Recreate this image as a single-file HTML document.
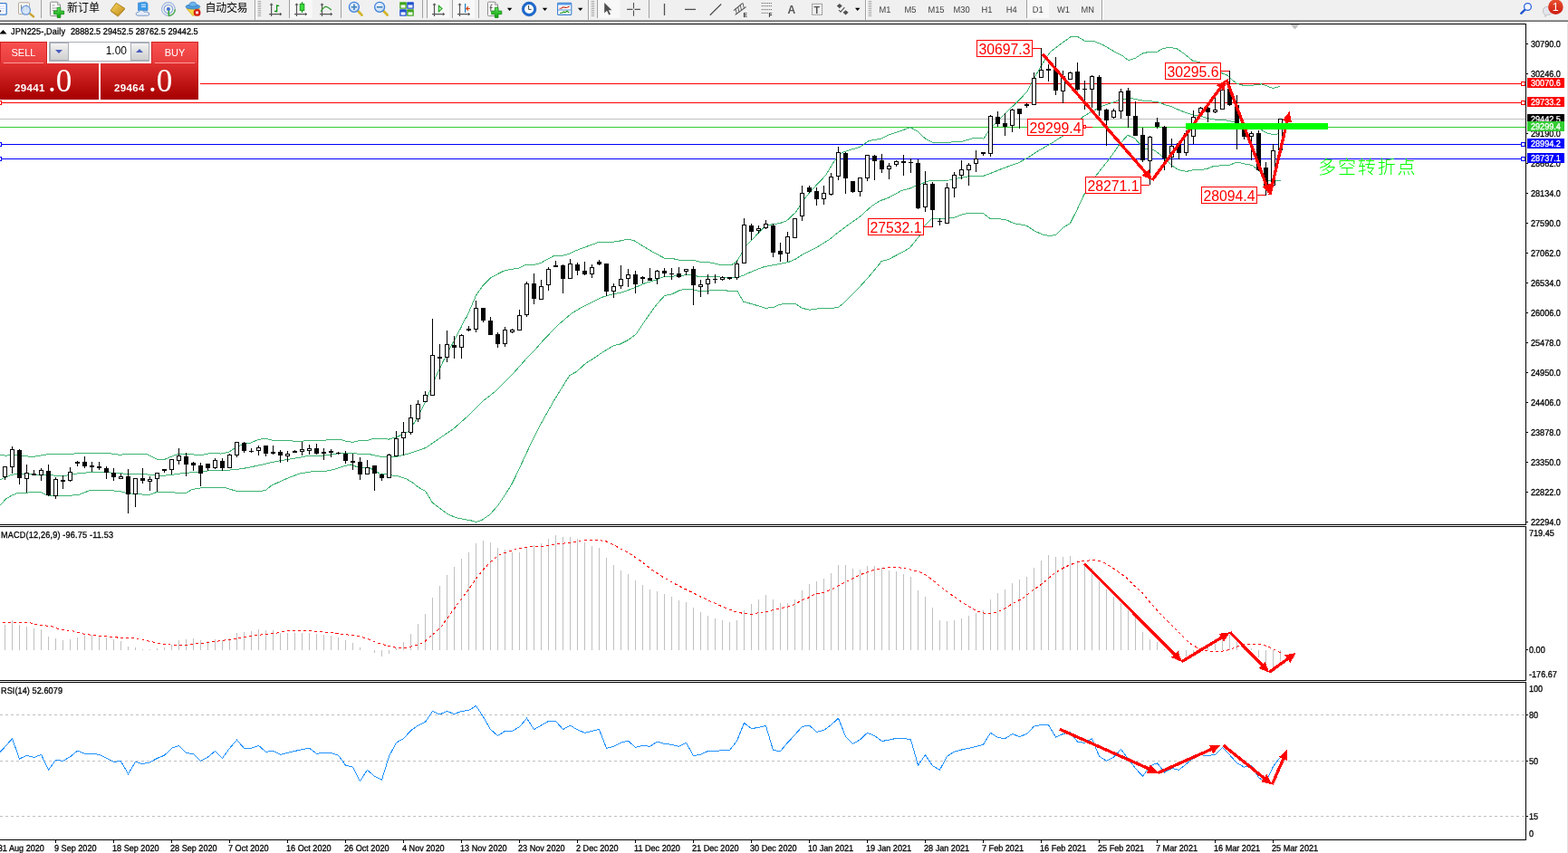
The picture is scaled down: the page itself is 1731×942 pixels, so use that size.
<!DOCTYPE html>
<html lang="zh"><head><meta charset="utf-8"><title>JPN225-,Daily</title>
<style>
html,body{margin:0;padding:0;background:#fff;}
body{width:1731px;height:942px;overflow:hidden;position:relative;font-family:"Liberation Sans","Noto Sans CJK SC",sans-serif;}
#chart{position:absolute;left:0;top:0;width:1731px;height:942px;}
#chart text{font-family:"Liberation Sans","Noto Sans CJK SC",sans-serif;}
.ax{font-size:10px;fill:#000;text-rendering:geometricPrecision;stroke:#000;stroke-width:0.3px;}
.axw{font-size:10px;fill:#fff;text-rendering:geometricPrecision;stroke:#fff;stroke-width:0.3px;}
.lbl{font-size:15.8px;fill:#f00;}
.t9{font-size:10px;fill:#000;text-rendering:geometricPrecision;stroke:#000;stroke-width:0.3px;}
#tb{position:absolute;left:0;top:0;width:1731px;height:26px;}

#tp{position:absolute;left:0;top:46px;width:220px;height:64px;font-family:"Liberation Sans",sans-serif;}
#tp div{position:absolute;box-sizing:border-box;}
.sb{background:linear-gradient(#f85050,#e83c3c);color:#fff;font-size:11px;text-align:center;line-height:23px;}
.pb{background:linear-gradient(#e03030,#b00808 80%,#a80000);color:#fff;}
.spin{background:#fff;border:1px solid #a9aeb8;}
.sbtn{background:linear-gradient(#f4f4f4,#e0e0e0 50%,#d0d0d0);border:1px solid #a9aeb8;}
.pr{font-weight:bold;font-size:11.5px;letter-spacing:0.35px;color:#fff;white-space:nowrap;}
.pbig{font-size:35px;color:#fff;font-family:"Liberation Serif",serif;white-space:nowrap;}

</style></head><body>
<svg id="chart" width="1731" height="942" viewBox="0 0 1731 942">
<rect x="1730" y="23" width="1" height="919" fill="#e2e2e2"/>
<g shape-rendering="crispEdges">
<rect x="221" y="92" width="1463" height="1" fill="#ff0000"/>
<rect x="0" y="113" width="1684" height="1" fill="#ff0000"/>
<rect x="0" y="131" width="1684" height="1" fill="#c0c0c0"/>
<rect x="0" y="140" width="1684" height="1" fill="#32cd32"/>
<rect x="0" y="159" width="1684" height="1" fill="#0000ff"/>
<rect x="0" y="175" width="1684" height="1" fill="#0000ff"/>
<rect x="1679.5" y="90.5" width="4" height="4" fill="#fff" stroke="#ff0000" stroke-width="1"/>
<rect x="1679.5" y="111.5" width="4" height="4" fill="#fff" stroke="#ff0000" stroke-width="1"/>
<rect x="1679.5" y="157.5" width="4" height="4" fill="#fff" stroke="#0000ff" stroke-width="1"/>
<rect x="1679.5" y="173.5" width="4" height="4" fill="#fff" stroke="#0000ff" stroke-width="1"/>
<rect x="-2.5" y="111.5" width="4" height="4" fill="#fff" stroke="#ff0000" stroke-width="1"/>
<rect x="-2.5" y="157.5" width="4" height="4" fill="#fff" stroke="#0000ff" stroke-width="1"/>
<rect x="-2.5" y="173.5" width="4" height="4" fill="#fff" stroke="#0000ff" stroke-width="1"/>
<polyline points="0,502 6.4,503.3 13.5,502 21.4,502.7 35.7,504.6 51,502 79,501.8 84.1,500.5 119.7,500.5 132.5,502.4 140.1,501.4 161.8,501.4 173.2,507.1 182.2,507.1 196.2,501.4 208.9,501.4 216.6,502.4 224.9,502 233.8,500.3 244,501.1 252.9,499 258,495.7 267,491 270.8,490.3 277.1,489 284.8,485.6 292.4,484.2 300.1,486.1 321.7,486.5 324.3,487.4 333.2,487.4 338.3,486.1 359.9,486.1 362.5,485.2 375.2,485.2 381.6,487.1 389.2,488.4 396.9,486.5 407.1,486.1 412.2,484.3 426.2,484.3 428.7,485.2 436,483.3 439.6,482 451.1,476.3 460.7,461.9 470.2,442.8 479.8,418.9 489.4,398.8 498.9,380.7 508.5,362.5 513.3,352.6 515.3,350 525.5,326.2 533.1,315.4 542,306.4 556.1,299.2 563.7,297.5 572.6,296.2 580.3,292.4 590.4,292.2 596.8,290.5 612.1,282.2 622.3,282 628.7,280.3 636.3,276.5 660.5,267.6 680.9,266.9 692.4,264.1 700,265.7 710.2,272 718.5,277 733.8,285.3 744,285.9 750.3,287.2 766.9,287.6 773.3,289.4 782.2,289.7 792,291.7 794.2,292.3 808.2,292.3 813.3,288.7 818.4,280.4 823.5,271.5 829.9,265.2 837.5,256.9 845.1,249.2 850.2,248.2 860.4,246.7 868.1,244.1 878.3,234.6 883.4,226.9 889.7,217.4 898.6,207.2 911.4,193.8 919.3,180.6 923.1,175.5 929.5,168.5 937.1,165.9 948.9,162.6 959.1,155.6 973.1,153.1 982,148.6 993.5,144.8 1005,140.7 1012.6,144.8 1021.5,153.1 1029.2,157.1 1048.3,157.1 1062.3,156.2 1075,152.4 1080.1,152.2 1085.9,153.1 1092.9,142.2 1103.1,132 1114.5,120.6 1123.4,112.3 1133.6,101.5 1141.3,87.1 1147.7,75.7 1155.3,62.9 1160.4,56.6 1173.2,47 1182.1,40.6 1189.7,40.6 1197.4,45.1 1206.3,45.1 1217.8,49.6 1230.5,57.2 1239.4,61.7 1245.8,66.8 1253.4,64.2 1261.1,59.1 1268.7,57.2 1277.6,57.2 1284,53.4 1291.6,52.4 1299.3,53.8 1306.9,59.1 1317.1,67.4 1323.5,68.3 1349,80.8 1355.3,83.3 1360.4,88.4 1365.5,92.2 1373.2,94.5 1383.4,94.1 1392.3,92.9 1398.6,94.8 1405,97.6 1413.3,95.4" fill="none" stroke="#3cb371" stroke-width="1" />
<polyline points="0,529.8 12.7,524.3 21.7,523.3 31.8,523.7 51,524.6 71.3,525.6 79,523.7 99.4,521.5 114.6,521.5 127.4,522.4 140.1,523.3 165.6,524.1 178.3,525.6 191.1,524.1 203.8,522.4 216.6,521.5 228.7,520 254.2,519 267,517.7 279.7,515.2 292.4,512.4 305.2,509.4 317.9,507.3 330.6,505.2 340.8,503.3 356.1,503.1 368.9,501.5 375.2,500.5 391.8,500.5 396.9,501.5 407.1,501.5 414.7,503.1 422.4,504.7 436,504.7 451.1,501.1 470.2,494.4 485.5,483.9 500.8,473.4 518,458.1 533.3,442.8 546.7,432.3 565.8,413.2 581.1,396 592,384.9 597.5,378.3 610.2,364.9 617.9,357.3 630.6,346.4 643.3,338.8 653.5,333.7 663.7,328.6 673.9,325.4 686.6,322.9 699.4,318.2 712.1,312.7 724.9,308.9 732.5,305.7 750.3,304.6 760.5,303.4 769.5,305 792,305 796.7,306.6 815.8,305.9 822.2,303.4 832.4,298.9 843.9,294.5 855.3,292.5 870.6,289.4 878.3,286.2 885.9,281.1 901.2,273.4 916.5,263.9 924.1,257.5 936.9,248 949.6,239 962.3,227.6 971.3,221.8 980.2,218.7 995.5,210.4 1004,208.2 1012.3,204.8 1026.3,199.4 1047.9,199 1056.9,197.1 1069.6,194.8 1084.9,194.6 1095.1,190.8 1107.8,185.7 1124,179.9 1134.9,174.1 1146.4,166.4 1160,158.8 1173.2,150.2 1185.9,138.1 1196.1,128.5 1206.3,122.8 1216.5,117.1 1230.5,112.6 1236.9,109.8 1243.2,109.2 1249.6,108.8 1262.3,111.3 1277.6,112.4 1287.8,116.2 1291.6,117.1 1303.1,122.2 1315.8,126.6 1326,128.5 1335,131.1 1341.3,132 1354.1,133 1363,134.9 1392.3,143.2 1398.6,147 1406.3,148.9 1413.3,147.4" fill="none" stroke="#3cb371" stroke-width="1" />
<polyline points="0,558.1 6.4,551.1 12.7,547.3 19.1,544.7 29.3,544.1 44.6,543.4 51,546.6 61.1,547.9 71.3,547.9 86.6,546.4 99.4,541.5 119.7,541.5 132.5,542.5 140.1,544.7 150.3,545.4 164.3,546.6 173.2,543.4 191.1,543.4 194.9,544.5 205.1,544.5 211.5,540.9 216.6,539.7 223.6,538.7 247.8,538.3 260.6,542.3 288.6,542.3 293.7,541.3 298.8,536.8 305.2,533.6 317.9,527.9 330.6,523.1 343.4,520.9 359.9,520.3 368.9,518.3 381.6,514.3 388,512.9 394.3,515.8 400.7,516.4 407.1,516.2 412.2,519 419.8,523.4 430,524.3 431.5,524.8 439.1,525.7 448,528.6 455.7,533.1 462,538.2 469.7,542.4 477.3,555.1 486.2,561.7 493.9,567.5 502.8,571.5 511.7,573.4 519.4,574.7 525.7,576.4 532.1,574.2 541,568.1 549.9,557.9 557.6,546.4 565.2,534.3 572.9,518.4 580.5,501.8 588.2,485.3 595.8,470.6 602,459.2 607.1,450.3 612.2,441.3 617.3,433.1 622.4,424.8 628.8,414.6 636.4,410.5 646.6,401.2 653,397.4 660.6,392.3 663.7,390 677.7,381.5 684.1,380.2 693,375.7 701.9,369.4 712.1,354.1 724.9,336.2 733.8,326.4 741.4,325 750.3,320.6 755.4,319.4 763.1,319.7 770.7,321.2 782.2,321.2 787.6,320.3 801.7,320.3 802.9,321.2 813.8,321.2 820.8,333.3 831,335.9 845,340.3 853.9,339.4 860.3,336.5 866.6,335.2 877.5,335.2 885.7,340.3 893.4,342.2 904.8,340.6 920.1,340.3 925.9,339 931.6,334.6 938,328.2 945.6,320.6 958.3,306.6 964.7,298.9 971.7,290.6 972.5,288.7 980.2,286.8 990.4,281.5 1004,274.1 1014.8,260.8 1021.2,248.7 1028.8,241.5 1042.9,241.5 1053,240.4 1063.2,236.6 1069.6,235.1 1084.9,235.1 1092.5,241.1 1100.2,241.5 1110.2,242.5 1119.1,246.6 1133.1,249.2 1142,254.9 1151,259.1 1158.6,260.6 1165.6,259.4 1173.9,251.1 1181.5,246.6 1189.2,231.3 1196.8,214.8 1209.6,194.4 1224.8,175.3 1235.8,159.5 1244.8,149.3 1252.4,152.5 1257.5,158.2 1263.9,164.6 1274.1,165.9 1280.4,170.3 1286.8,176.1 1293.2,182.4 1300.8,187.5 1309.7,189.4 1318.6,187.5 1331.4,186.9 1340.3,183.3 1356.9,182.4 1365.8,179 1373.4,180.9 1382.3,182.4 1388.7,187.5 1395.1,193.9 1400.2,199.6 1413.6,199.6" fill="none" stroke="#3cb371" stroke-width="1" />
<path d="M5 515v15M13 493v30M21 496v39M29 513v31M37 519v6M45 517v14M53 513v35M61 527v24M69 525v15M77 516v16M85 509v6M93 504v13M101 510v11M109 510v9M117 515v14M125 517v14M133 523v6M141 518v49M149 528v32M157 517v17M165 526v16M173 522v21M181 518v4M189 507v17M197 495v18M205 500v26M213 510v10M221 511v26M229 512v8M237 506v12M245 506v14M253 501v16M261 488v17M269 488v12M277 495v5M285 492v11M293 492v12M301 492v10M309 497v14M317 498v12M325 497v3M333 488v15M341 491v11M349 490v12M357 495v13M365 496v9M373 499v3M381 498v14M389 501v18M397 505v25M405 508v16M413 514v28M421 523v8M429 501v27M437 476v28M445 466v37M453 447v33M461 442v24M469 432v12M477 352v85M485 380v39M493 365v35M501 371v25M509 369v27M517 360v6M525 332v35M533 340v16M541 350v20M549 367v17M557 361v22M565 363v5M573 342v23M581 311v39M589 302v34M597 309v22M605 295v26M613 288v7M621 292v32M629 286v22M637 290v14M645 289v15M653 292v15M661 287v6M669 291v36M677 313v16M685 293v26M693 297v20M701 299v25M709 305v8M717 296v14M725 298v16M733 296v10M741 296v13M749 295v12M757 297v7M765 294v43M773 309v19M781 303v22M789 303v10M797 305v5M805 306v3M813 288v21M821 241v50M829 247v18M837 249v9M845 243v10M853 247v37M861 268v21M869 256v33M877 241v22M885 205v39M893 205v8M901 207v20M909 205v21M917 191v25M925 162v37M933 168v46M941 200v13M949 196v21M957 171v29M965 171v28M973 170v21M981 180v18M989 177v7M997 171v23M1005 175v16M1013 176v55M1021 189v45M1029 201v50M1037 241v8M1045 202v45M1053 190v28M1061 177v21M1069 180v25M1077 166v24M1085 168v4M1093 127v46M1101 123v17M1109 125v25M1117 120v26M1125 120v22M1133 114v5M1141 80v36M1149 53v33M1157 71v19M1165 63v42M1173 78v36M1181 79v9M1189 69v31M1197 89v32M1205 83v36M1213 83v45M1221 120v41M1229 120v11M1237 98v33M1245 97v44M1253 112v38M1261 141v38M1269 150v54M1277 130v12M1285 139v49M1293 153v32M1301 156v20M1309 144v28M1317 122v37M1325 118v7M1333 118v17M1341 108v17M1349 98v23M1357 78v39M1365 105v60M1373 142v12M1381 145v32M1389 144v45M1397 179v37M1405 159v46M1413 131v35" fill="none" stroke="#000" stroke-width="1" transform="translate(0.5 0)"/>
<path d="M3 515h5v12h-5zM11 496h5v20h-5zM19 497h5v31h-5zM27 522h5v7h-5zM35 523h5v2h-5zM43 519h5v6h-5zM51 520h5v27h-5zM59 529h5v19h-5zM67 530h5v2h-5zM75 521h5v10h-5zM83 510h5v2h-5zM91 510h5v5h-5zM99 514h5v2h-5zM107 515h5v2h-5zM115 517h5v5h-5zM123 522h5v5h-5zM131 526h5v3h-5zM139 526h5v20h-5zM147 528h5v18h-5zM155 528h5v3h-5zM163 529h5v3h-5zM171 522h5v7h-5zM179 518h5v2h-5zM187 507h5v12h-5zM195 503h5v6h-5zM203 504h5v9h-5zM211 511h5v3h-5zM219 514h5v9h-5zM227 512h5v5h-5zM235 508h5v9h-5zM243 509h5v8h-5zM251 502h5v15h-5zM259 488h5v15h-5zM267 489h5v9h-5zM275 498h5v1h-5zM283 494h5v4h-5zM291 492h5v9h-5zM299 499h5v2h-5zM307 499h5v4h-5zM315 501h5v3h-5zM323 498h5v2h-5zM331 496h5v3h-5zM339 495h5v3h-5zM347 495h5v6h-5zM355 499h5v2h-5zM363 498h5v2h-5zM371 500h5v1h-5zM379 501h5v8h-5zM387 509h5v2h-5zM395 510h5v14h-5zM403 516h5v8h-5zM411 514h5v9h-5zM419 524h5v4h-5zM427 502h5v26h-5zM435 484h5v20h-5zM443 477h5v7h-5zM451 461h5v17h-5zM459 446h5v17h-5zM467 436h5v8h-5zM475 392h5v45h-5zM483 394h5v2h-5zM491 380h5v15h-5zM499 381h5v3h-5zM507 370h5v14h-5zM515 363h5v2h-5zM523 340h5v24h-5zM531 340h5v14h-5zM539 354h5v16h-5zM547 369h5v11h-5zM555 364h5v16h-5zM563 364h5v3h-5zM571 348h5v17h-5zM579 313h5v35h-5zM587 313h5v17h-5zM595 316h5v15h-5zM603 297h5v18h-5zM611 293h5v2h-5zM619 293h5v15h-5zM627 291h5v17h-5zM635 292h5v7h-5zM643 299h5v4h-5zM651 295h5v8h-5zM659 289h5v3h-5zM667 291h5v31h-5zM675 316h5v6h-5zM683 308h5v8h-5zM691 303h5v5h-5zM699 303h5v11h-5zM707 306h5v2h-5zM715 307h5v3h-5zM723 299h5v9h-5zM731 299h5v3h-5zM739 302h5v1h-5zM747 302h5v4h-5zM755 297h5v3h-5zM763 297h5v18h-5zM771 314h5v3h-5zM779 308h5v6h-5zM787 308h5v1h-5zM795 306h5v3h-5zM803 306h5v2h-5zM811 291h5v16h-5zM819 248h5v43h-5zM827 249h5v7h-5zM835 252h5v3h-5zM843 247h5v5h-5zM851 249h5v30h-5zM859 277h5v4h-5zM867 261h5v19h-5zM875 241h5v22h-5zM883 213h5v26h-5zM891 207h5v5h-5zM899 211h5v9h-5zM907 213h5v7h-5zM915 195h5v20h-5zM923 168h5v27h-5zM931 169h5v28h-5zM939 200h5v12h-5zM947 196h5v16h-5zM955 171h5v26h-5zM963 172h5v6h-5zM971 177h5v10h-5zM979 183h5v4h-5zM987 178h5v4h-5zM995 178h5v2h-5zM1003 179h5v1h-5zM1011 180h5v50h-5zM1019 203h5v26h-5zM1027 203h5v29h-5zM1035 244h5v1h-5zM1043 207h5v40h-5zM1051 193h5v15h-5zM1059 187h5v7h-5zM1067 182h5v6h-5zM1075 175h5v6h-5zM1083 168h5v2h-5zM1091 128h5v42h-5zM1099 129h5v8h-5zM1107 136h5v4h-5zM1115 121h5v18h-5zM1123 120h5v6h-5zM1131 115h5v2h-5zM1139 86h5v30h-5zM1147 77h5v9h-5zM1155 76h5v2h-5zM1163 77h5v23h-5zM1171 84h5v17h-5zM1179 80h5v8h-5zM1187 79h5v20h-5zM1195 98h5v1h-5zM1203 84h5v15h-5zM1211 85h5v37h-5zM1219 121h5v12h-5zM1227 122h5v8h-5zM1235 101h5v22h-5zM1243 100h5v28h-5zM1251 128h5v22h-5zM1259 149h5v28h-5zM1267 151h5v27h-5zM1275 135h5v5h-5zM1283 140h5v35h-5zM1291 161h5v13h-5zM1299 158h5v11h-5zM1307 147h5v22h-5zM1315 129h5v22h-5zM1323 119h5v6h-5zM1331 119h5v5h-5zM1339 121h5v3h-5zM1347 99h5v22h-5zM1355 98h5v18h-5zM1363 116h5v20h-5zM1371 143h5v8h-5zM1379 147h5v4h-5zM1387 147h5v41h-5zM1395 185h5v22h-5zM1403 166h5v39h-5zM1411 131h5v35h-5z" fill="#000"/>
<path d="M4 516h3v10h-3zM12 497h3v18h-3zM28 523h3v5h-3zM44 520h3v4h-3zM60 530h3v17h-3zM76 522h3v8h-3zM132 527h3v1h-3zM148 529h3v16h-3zM164 530h3v1h-3zM172 523h3v5h-3zM188 508h3v10h-3zM196 504h3v4h-3zM236 509h3v7h-3zM252 503h3v13h-3zM260 489h3v13h-3zM284 495h3v2h-3zM316 502h3v1h-3zM332 497h3v1h-3zM340 496h3v1h-3zM404 517h3v6h-3zM428 503h3v24h-3zM436 485h3v18h-3zM444 478h3v5h-3zM452 462h3v15h-3zM460 447h3v15h-3zM468 437h3v6h-3zM476 393h3v43h-3zM492 381h3v13h-3zM508 371h3v12h-3zM524 341h3v22h-3zM556 365h3v14h-3zM564 365h3v1h-3zM572 349h3v15h-3zM580 314h3v33h-3zM596 317h3v13h-3zM604 298h3v16h-3zM628 292h3v15h-3zM652 296h3v6h-3zM676 317h3v4h-3zM684 309h3v6h-3zM692 304h3v3h-3zM724 300h3v7h-3zM756 298h3v1h-3zM772 315h3v1h-3zM780 309h3v4h-3zM796 307h3v1h-3zM812 292h3v14h-3zM820 249h3v41h-3zM836 253h3v1h-3zM844 248h3v3h-3zM868 262h3v17h-3zM876 242h3v20h-3zM884 214h3v24h-3zM908 214h3v5h-3zM916 196h3v18h-3zM924 169h3v25h-3zM948 197h3v14h-3zM956 172h3v24h-3zM980 184h3v2h-3zM988 179h3v2h-3zM1020 204h3v24h-3zM1044 208h3v38h-3zM1052 194h3v13h-3zM1060 188h3v5h-3zM1068 183h3v4h-3zM1076 176h3v4h-3zM1092 129h3v40h-3zM1116 122h3v16h-3zM1140 87h3v28h-3zM1148 78h3v7h-3zM1172 85h3v15h-3zM1180 81h3v6h-3zM1204 85h3v13h-3zM1228 123h3v6h-3zM1236 102h3v20h-3zM1268 152h3v25h-3zM1292 162h3v11h-3zM1308 148h3v20h-3zM1316 130h3v20h-3zM1324 120h3v4h-3zM1340 122h3v1h-3zM1348 100h3v20h-3zM1380 148h3v2h-3zM1404 167h3v37h-3zM1412 132h3v33h-3z" fill="#fff"/>
<path d="M5 690v28M13 685v33M21 690v28M29 692v26M37 694v24M45 695v23M53 703v15M61 705v13M69 707v11M77 706v12M85 704v14M93 702v16M101 701v17M109 702v16M117 704v14M125 706v12M133 708v10M141 714v4M149 715v3M157 717v1M165 717v1M173 716v2M181 715v3M189 712v6M197 707v11M205 706v12M213 705v13M221 707v11M229 708v10M237 706v12M245 707v11M253 705v13M261 699v19M269 698v20M277 697v21M285 695v23M293 696v22M301 696v22M309 699v19M317 699v19M325 699v19M333 699v19M341 699v19M349 700v18M357 701v17M365 702v16M373 704v14M381 707v11M389 710v8M397 715v3M413 718v3M421 718v7M429 718v4M437 716v2M445 709v9M453 700v18M461 689v29M469 678v40M477 660v58M485 647v71M493 635v83M501 626v92M509 617v101M517 610v108M525 600v118M533 597v121M541 599v119M549 605v113M557 607v111M565 610v108M573 610v108M581 604v114M589 602v116M597 600v118M605 595v123M613 591v127M621 593v125M629 593v125M637 595v123M645 599v119M653 603v115M661 605v113M669 616v102M677 624v94M685 630v88M693 634v84M701 641v77M709 646v72M717 651v67M725 653v65M733 656v62M741 659v59M749 663v55M757 665v53M765 671v47M773 676v42M781 680v38M789 683v35M797 685v33M805 687v31M813 685v33M821 674v44M829 667v51M837 662v56M845 657v61M853 662v56M861 666v52M869 666v52M877 662v56M885 652v66M893 645v73M901 642v76M909 639v79M917 633v85M925 624v94M933 624v94M941 628v90M949 629v89M957 625v93M965 625v93M973 627v91M981 630v88M989 631v87M997 634v84M1005 637v81M1013 652v66M1021 659v59M1029 671v47M1037 685v33M1045 686v32M1053 685v33M1061 683v35M1069 680v38M1077 677v41M1085 674v44M1093 662v56M1101 655v63M1109 651v67M1117 644v74M1125 640v78M1133 637v81M1141 627v91M1149 619v99M1157 613v105M1165 615v103M1173 615v103M1181 614v104M1189 619v99M1197 623v95M1205 627v91M1213 642v76M1221 651v67M1229 659v59M1237 666v52M1245 674v44M1253 682v36M1261 698v20M1269 706v12M1277 709v9M1285 717v1M1293 718v5M1301 718v8M1309 718v7M1317 718v4M1325 718v1M1333 715v3M1341 711v7M1349 706v12M1357 701v17M1365 708v10M1373 714v4M1381 716v2M1389 718v8M1397 718v21M1405 718v24M1413 718v12" fill="none" stroke="#c0c0c0" stroke-width="1" transform="translate(0.5 0)"/>
<polyline points="2.7,687.7 32.9,687.7 40.2,689.5 60.3,692.3 63.9,694.5 84,697.4 89.5,699.6 105.9,702 127.8,703.6 131.5,704.5 146.1,704.7 168,708.7 178.9,711.1 188.1,712 206.3,712.4 211.8,711.1 230.1,709.6 255.6,706 261.1,705.4 284.8,701.4 301.3,699.6 302.7,699.6 309.1,698.3 321.9,696.3 343.8,696.3 347.5,697.4 367.6,698.7 371.2,699.6 394.9,702.3 405.9,705.6 418.7,710.5 427.8,713.3 438.8,715.5 447.9,715.5 455.2,713.8 460.7,712.4 468,709.3 477.1,701.4 486.2,693.2 493.5,683.2 502.7,670.4 510,660.3 517.3,651.2 524.6,640.3 533.7,628.9 541,621.1 550.1,613.4 557.4,610.5 568.4,606.8 581.2,604.3 592.1,603.2 600,603.2 611,601.5 621.9,600.1 631,599.2 642,596.8 660.3,596.4 669.4,597.9 678.5,602.3 689.5,608.3 696.8,612.5 707.7,619.8 718.7,628.4 731.5,637 744.2,644.3 755.2,649.9 768,656.3 780.8,662.5 791.7,667.3 802.7,672.2 813.6,676.2 828.2,678.6 837.4,676.8 846.5,675.3 859.3,672.2 873.9,669.1 886.7,662.2 894,659.4 900,655.8 909.1,654.5 918.3,650.8 927.4,645.7 936.5,641.2 945.6,636.6 954.8,632.6 963.9,629.7 973,627.8 980.3,626.6 991.3,626.6 1002.2,628.4 1009.5,630.2 1018.7,632.9 1027.8,639.3 1036.9,646.6 1046.1,653.9 1055.2,660.3 1064.3,666.7 1073.5,672.2 1082.6,676.4 1089.9,677.7 1099,676.4 1108.1,672.8 1119.1,665.8 1128.2,661.2 1137.4,653.9 1146.5,647.6 1155.6,640.3 1162.9,633.9 1170,629.3 1179.1,624.7 1188.3,621.1 1197.4,619.3 1206.5,618.7 1215.6,619.8 1224.8,624.7 1233.9,631.1 1243,637.5 1252.2,646.6 1261.3,654.9 1268.6,664 1275.9,672.2 1283.2,680.4 1290.5,687.7 1297.8,695 1305.1,702.3 1312.4,709.6 1319.7,714.2 1327,717.8 1334.3,719.3 1348.9,719.3 1358.1,717.3 1365.4,714.2 1372.7,711.8 1389.1,711.5 1398.2,713.3 1407.4,717.8 1413.6,720.6" fill="none" stroke="#ff0000" stroke-width="1" stroke-dasharray="3 3"/>
<path d="M0 789.5H1684" stroke="#c0c0c0" stroke-width="1" stroke-dasharray="3 3" fill="none"/>
<path d="M0 840.5H1684" stroke="#c0c0c0" stroke-width="1" stroke-dasharray="3 3" fill="none"/>
<path d="M0 901.5H1684" stroke="#c0c0c0" stroke-width="1" stroke-dasharray="3 3" fill="none"/>
<polyline points="0,830.4 5.5,824.8 13.5,815.7 21.5,838 29.5,834.2 37.5,836.5 45.5,833.3 53.5,850.3 61.5,839.3 69.5,840.3 77.5,835.7 85.5,829.1 93.5,832.3 101.5,832.3 109.5,833.3 117.5,837.1 125.5,841.2 133.5,840.8 141.5,854.6 149.5,841.2 157.5,843.7 165.5,841.8 173.5,837.4 181.5,834.2 189.5,826.3 197.5,823.3 205.5,831.4 213.5,832.7 221.5,840.3 229.5,836.1 237.5,829.5 245.5,837.4 253.5,826.3 261.5,817.2 269.5,826.3 277.5,826.3 285.5,823.3 293.5,830.4 301.5,829.1 309.5,833.3 317.5,831.4 325.5,829.5 333.5,827.6 341.5,826.3 349.5,832.3 357.5,831.4 365.5,831.4 373.5,834.2 381.5,845 389.5,847.1 397.5,862.6 405.5,850.3 413.5,857.3 421.5,861.3 429.5,835.2 437.5,820.1 445.5,815.7 453.5,806.8 461.5,801.1 469.5,797.4 477.5,785.5 485.5,788.9 493.5,785.5 501.5,788.5 509.5,785.5 517.5,784.5 525.5,779.4 533.5,791.7 541.5,805.5 549.5,812.5 557.5,807.4 565.5,807.4 573.5,802.7 581.5,793.2 589.5,805.5 597.5,801.1 605.5,796.4 613.5,796.4 621.5,805.5 629.5,801.1 637.5,805.9 645.5,809.3 653.5,807.4 661.5,805.5 669.5,826.3 677.5,824.4 685.5,820.1 693.5,818.2 701.5,825.3 709.5,823.3 717.5,824.4 725.5,819.1 733.5,821.4 741.5,822.3 749.5,824.4 757.5,820.1 765.5,834.6 773.5,833.3 781.5,829.5 789.5,829.5 797.5,828.6 805.5,828.6 813.5,818.2 821.5,798.3 829.5,804.6 837.5,803.4 845.5,801.5 853.5,828.6 861.5,829.5 869.5,820.1 877.5,811.5 885.5,802.5 893.5,801.1 901.5,808.3 909.5,806.4 917.5,800.6 925.5,793.2 933.5,813.4 941.5,821.4 949.5,816.8 957.5,809.3 965.5,812.5 973.5,818.5 981.5,817.2 989.5,815.3 997.5,815.3 1005.5,816.8 1013.5,845.2 1021.5,833.7 1029.5,845.6 1037.5,850.3 1045.5,835.2 1053.5,830.1 1061.5,828 1069.5,826.3 1077.5,824.4 1085.5,822.3 1093.5,809.3 1101.5,814.4 1109.5,815.7 1117.5,810.6 1125.5,813.4 1133.5,810.6 1141.5,802.1 1149.5,800.6 1157.5,800.6 1165.5,814 1173.5,810.6 1181.5,808.7 1189.5,819.1 1197.5,820.4 1205.5,815.7 1213.5,835.2 1221.5,840.3 1229.5,836.1 1237.5,827.6 1245.5,838 1253.5,848.4 1261.5,857.3 1269.5,846 1277.5,842.7 1285.5,853.1 1293.5,848.4 1301.5,850.3 1309.5,843.7 1317.5,837.1 1325.5,833.7 1333.5,834.6 1341.5,833.3 1349.5,825.3 1357.5,833.7 1365.5,842.7 1373.5,847.1 1381.5,845.6 1389.5,858.8 1397.5,863.5 1405.5,846.5 1413.5,836.1" fill="none" stroke="#1e90ff" stroke-width="1" />
<rect x="0" y="22" width="1731" height="1" fill="#a0a0a0"/>
<rect x="0" y="23" width="1731" height="1" fill="#696969"/>
<rect x="0" y="24" width="1731" height="2" fill="#fff"/>
<rect x="0" y="26" width="1685" height="1" fill="#000"/>
<rect x="1684" y="26" width="1" height="902" fill="#000"/>
<rect x="0" y="579" width="1685" height="1" fill="#000"/>
<rect x="0" y="580" width="1685" height="1" fill="#fff"/>
<rect x="0" y="581" width="1685" height="1" fill="#000"/>
<rect x="0" y="751" width="1685" height="1" fill="#000"/>
<rect x="0" y="752" width="1685" height="1" fill="#fff"/>
<rect x="0" y="753" width="1685" height="1" fill="#000"/>
<rect x="0" y="927" width="1685" height="1" fill="#000"/>
<rect x="1685" y="48" width="2" height="1" fill="#000"/>
<rect x="1685" y="81" width="2" height="1" fill="#000"/>
<rect x="1685" y="147" width="2" height="1" fill="#000"/>
<rect x="1685" y="180" width="2" height="1" fill="#000"/>
<rect x="1685" y="213" width="2" height="1" fill="#000"/>
<rect x="1685" y="246" width="2" height="1" fill="#000"/>
<rect x="1685" y="279" width="2" height="1" fill="#000"/>
<rect x="1685" y="312" width="2" height="1" fill="#000"/>
<rect x="1685" y="345" width="2" height="1" fill="#000"/>
<rect x="1685" y="378" width="2" height="1" fill="#000"/>
<rect x="1685" y="411" width="2" height="1" fill="#000"/>
<rect x="1685" y="444" width="2" height="1" fill="#000"/>
<rect x="1685" y="477" width="2" height="1" fill="#000"/>
<rect x="1685" y="510" width="2" height="1" fill="#000"/>
<rect x="1685" y="543" width="2" height="1" fill="#000"/>
<rect x="1685" y="576" width="2" height="1" fill="#000"/>
<rect x="1685" y="717" width="2" height="1" fill="#000"/>
<rect x="1685" y="789" width="2" height="1" fill="#000"/>
<rect x="1685" y="840" width="2" height="1" fill="#000"/>
<rect x="1685" y="901" width="2" height="1" fill="#000"/>
<rect x="61" y="928" width="1" height="3" fill="#000"/>
<rect x="125" y="928" width="1" height="3" fill="#000"/>
<rect x="189" y="928" width="1" height="3" fill="#000"/>
<rect x="253" y="928" width="1" height="3" fill="#000"/>
<rect x="317" y="928" width="1" height="3" fill="#000"/>
<rect x="381" y="928" width="1" height="3" fill="#000"/>
<rect x="445" y="928" width="1" height="3" fill="#000"/>
<rect x="509" y="928" width="1" height="3" fill="#000"/>
<rect x="573" y="928" width="1" height="3" fill="#000"/>
<rect x="637" y="928" width="1" height="3" fill="#000"/>
<rect x="701" y="928" width="1" height="3" fill="#000"/>
<rect x="765" y="928" width="1" height="3" fill="#000"/>
<rect x="829" y="928" width="1" height="3" fill="#000"/>
<rect x="893" y="928" width="1" height="3" fill="#000"/>
<rect x="957" y="928" width="1" height="3" fill="#000"/>
<rect x="1021" y="928" width="1" height="3" fill="#000"/>
<rect x="1085" y="928" width="1" height="3" fill="#000"/>
<rect x="1149" y="928" width="1" height="3" fill="#000"/>
<rect x="1213" y="928" width="1" height="3" fill="#000"/>
<rect x="1277" y="928" width="1" height="3" fill="#000"/>
<rect x="1341" y="928" width="1" height="3" fill="#000"/>
<rect x="1405" y="928" width="1" height="3" fill="#000"/>
</g>
<rect x="1140" y="53" width="9" height="1" fill="#f00" shape-rendering="crispEdges"/>
<rect x="1078.5" y="44.5" width="61" height="18" fill="#fff" stroke="#f00" stroke-width="1" shape-rendering="crispEdges"/>
<text class="lbl" x="1109" y="60" text-anchor="middle">30697.3</text>
<rect x="1348" y="78" width="9" height="1" fill="#f00" shape-rendering="crispEdges"/>
<rect x="1286.5" y="69.5" width="61" height="18" fill="#fff" stroke="#f00" stroke-width="1" shape-rendering="crispEdges"/>
<text class="lbl" x="1317" y="85" text-anchor="middle">30295.6</text>
<rect x="1196" y="140" width="10" height="1" fill="#f00" shape-rendering="crispEdges"/>
<rect x="1134.5" y="131.5" width="61" height="18" fill="#fff" stroke="#f00" stroke-width="1" shape-rendering="crispEdges"/>
<text class="lbl" x="1165" y="147" text-anchor="middle">29299.4</text>
<rect x="1196.5" y="138.5" width="2" height="3" fill="#fff" stroke="#f00" stroke-width="1" shape-rendering="crispEdges"/>
<rect x="1260" y="204" width="9" height="1" fill="#f00" shape-rendering="crispEdges"/>
<rect x="1198.5" y="195.5" width="61" height="18" fill="#fff" stroke="#f00" stroke-width="1" shape-rendering="crispEdges"/>
<text class="lbl" x="1229" y="211" text-anchor="middle">28271.1</text>
<rect x="1388" y="215" width="9" height="1" fill="#f00" shape-rendering="crispEdges"/>
<rect x="1326.5" y="206.5" width="61" height="18" fill="#fff" stroke="#f00" stroke-width="1" shape-rendering="crispEdges"/>
<text class="lbl" x="1357" y="222" text-anchor="middle">28094.4</text>
<rect x="1020" y="250" width="9" height="1" fill="#f00" shape-rendering="crispEdges"/>
<rect x="958.5" y="241.5" width="61" height="18" fill="#fff" stroke="#f00" stroke-width="1" shape-rendering="crispEdges"/>
<text class="lbl" x="989" y="257" text-anchor="middle">27532.1</text>
<g shape-rendering="crispEdges">
<line x1="1151" y1="59.6" x2="1270" y2="196.7" stroke="#f00" stroke-width="3.3"/>
<polygon points="1272,199 1260.5,193.7 1268.4,186.9" fill="#f00"/>
<line x1="1272" y1="199" x2="1352.2" y2="90.4" stroke="#f00" stroke-width="3.3"/>
<polygon points="1354,88 1351.3,100.3 1343,94.2" fill="#f00"/>
<line x1="1354" y1="88" x2="1400.9" y2="212.2" stroke="#f00" stroke-width="3.3"/>
<polygon points="1402,215 1393.1,206.1 1402.8,202.4" fill="#f00"/>
<line x1="1402" y1="215" x2="1422.8" y2="125.9" stroke="#f00" stroke-width="3.3"/>
<polygon points="1423.5,123 1425.9,135.4 1415.8,133" fill="#f00"/>
<line x1="1197" y1="622.4" x2="1302.6" y2="728.5" stroke="#f00" stroke-width="3.3"/>
<polygon points="1304.7,730.6 1292.9,726.1 1300.3,718.8" fill="#f00"/>
<line x1="1304.7" y1="730.6" x2="1355.4" y2="699.9" stroke="#f00" stroke-width="3.3"/>
<polygon points="1358,698.3 1350.9,708.7 1345.5,699.8" fill="#f00"/>
<line x1="1358" y1="698.3" x2="1398.9" y2="740.3" stroke="#f00" stroke-width="3.3"/>
<polygon points="1401,742.5 1389.3,737.9 1396.7,730.6" fill="#f00"/>
<line x1="1401" y1="742.5" x2="1428.3" y2="722.8" stroke="#f00" stroke-width="3.3"/>
<polygon points="1430.7,721 1424.4,732 1418.3,723.5" fill="#f00"/>
<line x1="1169.8" y1="805.3" x2="1275.8" y2="852.3" stroke="#f00" stroke-width="3.3"/>
<polygon points="1278.5,853.5 1265.9,853.6 1270.1,844.1" fill="#f00"/>
<line x1="1278.5" y1="853.5" x2="1344.8" y2="824.1" stroke="#f00" stroke-width="3.3"/>
<polygon points="1347.5,822.9 1339.1,832.3 1334.9,822.8" fill="#f00"/>
<line x1="1350.4" y1="822.9" x2="1402" y2="864.5" stroke="#f00" stroke-width="3.3"/>
<polygon points="1404.3,866.4 1392.1,863.2 1398.6,855.1" fill="#f00"/>
<line x1="1404.3" y1="866.4" x2="1420.1" y2="830.3" stroke="#f00" stroke-width="3.3"/>
<polygon points="1421.3,827.6 1421.4,840.2 1411.9,836" fill="#f00"/>
</g>
<rect x="1309" y="136" width="157" height="7" fill="#00ff00" shape-rendering="crispEdges"/>
<text x="1455" y="192" font-size="20" font-weight="300" fill="#00ff00" letter-spacing="1.9">多空转折点</text>
<text class="ax" transform="translate(1690 51.9) scale(0.91 1)">30790.0</text>
<text class="ax" transform="translate(1690 84.9) scale(0.91 1)">30246.0</text>
<text class="ax" transform="translate(1690 150.9) scale(0.91 1)">29190.0</text>
<text class="ax" transform="translate(1690 183.9) scale(0.91 1)">28662.0</text>
<text class="ax" transform="translate(1690 216.9) scale(0.91 1)">28134.0</text>
<text class="ax" transform="translate(1690 249.9) scale(0.91 1)">27590.0</text>
<text class="ax" transform="translate(1690 282.9) scale(0.91 1)">27062.0</text>
<text class="ax" transform="translate(1690 315.9) scale(0.91 1)">26534.0</text>
<text class="ax" transform="translate(1690 348.9) scale(0.91 1)">26006.0</text>
<text class="ax" transform="translate(1690 381.9) scale(0.91 1)">25478.0</text>
<text class="ax" transform="translate(1690 414.9) scale(0.91 1)">24950.0</text>
<text class="ax" transform="translate(1690 447.9) scale(0.91 1)">24406.0</text>
<text class="ax" transform="translate(1690 480.9) scale(0.91 1)">23878.0</text>
<text class="ax" transform="translate(1690 513.9) scale(0.91 1)">23350.0</text>
<text class="ax" transform="translate(1690 546.9) scale(0.91 1)">22822.0</text>
<text class="ax" transform="translate(1690 579.9) scale(0.91 1)">22294.0</text>
<rect x="1686" y="86" width="41" height="11" fill="#ff0000" shape-rendering="crispEdges"/>
<text class="axw" transform="translate(1690 95.3) scale(0.91 1)">30070.6</text>
<rect x="1686" y="107" width="41" height="11" fill="#ff0000" shape-rendering="crispEdges"/>
<text class="axw" transform="translate(1690 116.3) scale(0.91 1)">29733.2</text>
<rect x="1686" y="126" width="41" height="11" fill="#000000" shape-rendering="crispEdges"/>
<text class="axw" transform="translate(1690 135.3) scale(0.91 1)">29442.5</text>
<rect x="1686" y="134" width="41" height="11" fill="#32cd32" shape-rendering="crispEdges"/>
<text class="axw" transform="translate(1690 143.3) scale(0.91 1)">29299.4</text>
<rect x="1686" y="153" width="41" height="11" fill="#0000ff" shape-rendering="crispEdges"/>
<text class="axw" transform="translate(1690 162.3) scale(0.91 1)">28994.2</text>
<rect x="1686" y="169" width="41" height="11" fill="#0000ff" shape-rendering="crispEdges"/>
<text class="axw" transform="translate(1690 178.3) scale(0.91 1)">28737.1</text>
<text class="ax" transform="translate(1688 592) scale(0.91 1)">719.45</text>
<text class="ax" transform="translate(1688 720.5) scale(0.91 1)">0.00</text>
<text class="ax" transform="translate(1688 748) scale(0.91 1)">-176.67</text>
<text class="ax" transform="translate(1688 764) scale(0.91 1)">100</text>
<text class="ax" transform="translate(1688 792.5) scale(0.91 1)">80</text>
<text class="ax" transform="translate(1688 843.5) scale(0.91 1)">50</text>
<text class="ax" transform="translate(1688 904.5) scale(0.91 1)">15</text>
<text class="ax" transform="translate(1688 924) scale(0.91 1)">0</text>
<text class="t9" transform="translate(1 594) scale(0.91 1)" textLength="136.3" lengthAdjust="spacing">MACD(12,26,9) -96.75 -11.53</text>
<text class="t9" transform="translate(1 766) scale(0.91 1)" textLength="74.7" lengthAdjust="spacing">RSI(14) 52.6079</text>
<text class="t9" transform="translate(12 38) scale(0.91 1)" textLength="65.9" lengthAdjust="spacing">JPN225-,Daily</text>
<text class="t9" transform="translate(78 38) scale(0.91 1)" textLength="154.6" lengthAdjust="spacing">28882.5 29452.5 28762.5 29442.5</text>
<path d="M-0.5 37.4L3.5 33L7.5 37.4z" fill="#000"/>
<text class="ax" transform="translate(-2.2 940) scale(0.91 1)">31 Aug 2020</text>
<text class="ax" transform="translate(60 940) scale(0.91 1)">9 Sep 2020</text>
<text class="ax" transform="translate(124 940) scale(0.91 1)">18 Sep 2020</text>
<text class="ax" transform="translate(188 940) scale(0.91 1)">28 Sep 2020</text>
<text class="ax" transform="translate(252 940) scale(0.91 1)">7 Oct 2020</text>
<text class="ax" transform="translate(316 940) scale(0.91 1)">16 Oct 2020</text>
<text class="ax" transform="translate(380 940) scale(0.91 1)">26 Oct 2020</text>
<text class="ax" transform="translate(444 940) scale(0.91 1)">4 Nov 2020</text>
<text class="ax" transform="translate(508 940) scale(0.91 1)">13 Nov 2020</text>
<text class="ax" transform="translate(572 940) scale(0.91 1)">23 Nov 2020</text>
<text class="ax" transform="translate(636 940) scale(0.91 1)">2 Dec 2020</text>
<text class="ax" transform="translate(700 940) scale(0.91 1)">11 Dec 2020</text>
<text class="ax" transform="translate(764 940) scale(0.91 1)">21 Dec 2020</text>
<text class="ax" transform="translate(828 940) scale(0.91 1)">30 Dec 2020</text>
<text class="ax" transform="translate(892 940) scale(0.91 1)">10 Jan 2021</text>
<text class="ax" transform="translate(956 940) scale(0.91 1)">19 Jan 2021</text>
<text class="ax" transform="translate(1020 940) scale(0.91 1)">28 Jan 2021</text>
<text class="ax" transform="translate(1084 940) scale(0.91 1)">7 Feb 2021</text>
<text class="ax" transform="translate(1148 940) scale(0.91 1)">16 Feb 2021</text>
<text class="ax" transform="translate(1212 940) scale(0.91 1)">25 Feb 2021</text>
<text class="ax" transform="translate(1276 940) scale(0.91 1)">7 Mar 2021</text>
<text class="ax" transform="translate(1340 940) scale(0.91 1)">16 Mar 2021</text>
<text class="ax" transform="translate(1404 940) scale(0.91 1)">25 Mar 2021</text>
<path d="M1424.5 27h10l-5 5.5z" fill="#c0c0c0"/>
</svg>
<div id="tp">
<div class="sb" style="left:0;top:0;width:52px;height:24px;border:1px solid #d02020;border-bottom:0">SELL</div>
<div class="sb" style="left:167px;top:0;width:52px;height:24px;border:1px solid #d02020;border-bottom:0">BUY</div>
<div class="pb" style="left:0;top:24px;width:109px;height:40px;"></div>
<div class="pb" style="left:111px;top:24px;width:108px;height:40px;"></div>
<div style="left:4px;top:23px;width:44px;height:1px;background:#ff9a9a"></div>
<div style="left:171px;top:23px;width:44px;height:1px;background:#ff9a9a"></div>
<div class="spin" style="left:54px;top:0;width:111px;height:22px;"></div>
<div class="sbtn" style="left:55px;top:1px;width:21px;height:20px;"></div>
<div class="sbtn" style="left:144px;top:1px;width:21px;height:20px;"></div>
<div style="left:61px;top:9px;width:0;height:0;border:4px solid transparent;border-top:4px solid #4a5cc0;border-bottom:0"></div>
<div style="left:150px;top:8px;width:0;height:0;border:4px solid transparent;border-bottom:4px solid #4a5cc0;border-top:0"></div>
<div style="left:74px;top:0;width:66px;height:22px;line-height:21px;text-align:right;font-size:12px;color:#000">1.00</div>
<div class="pr" style="left:16px;top:44px;line-height:14px">29441</div>
<div class="pbig" style="left:53px;top:22px;line-height:44px">.0</div>
<div class="pr" style="left:126px;top:44px;line-height:14px">29464</div>
<div class="pbig" style="left:164px;top:22px;line-height:44px">.0</div>
</div>
<svg id="tb" width="1731" height="22" viewBox="0 0 1731 22" style="height:22px">
<defs>
<linearGradient id="gplus" x1="0" y1="0" x2="0" y2="1"><stop offset="0" stop-color="#5fe05f"/><stop offset="1" stop-color="#0aa00a"/></linearGradient>
<linearGradient id="gbook" x1="0" y1="0" x2="1" y2="1"><stop offset="0" stop-color="#f8d860"/><stop offset="1" stop-color="#c08818"/></linearGradient>
<linearGradient id="gred" x1="0" y1="0" x2="0" y2="1"><stop offset="0" stop-color="#ea5030"/><stop offset="1" stop-color="#cc1c10"/></linearGradient>
<radialGradient id="glens" cx="0.4" cy="0.35" r="0.8"><stop offset="0" stop-color="#eef6ff"/><stop offset="1" stop-color="#b8d4f0"/></radialGradient>
<g id="axes" fill="none" stroke="#555" stroke-width="1.2"><path d="M3 4V18M0.5 15.6H14"/><path d="M1.6 5.8L3 3.8L4.4 5.8M12.3 14.2L14.2 15.6L12.3 17" stroke-width="1"/></g>
<g id="plus"><path d="M-1.8-5.6h3.6v3.8h3.8v3.6h-3.8v3.8h-3.6v-3.8h-3.8v-3.6h3.8z" fill="url(#gplus)" stroke="#0c8c0c" stroke-width="0.8"/></g>
<path id="dd" d="M0 0h5.4l-2.7 3.2z" fill="#000"/>
<g id="grip" fill="#a8a8a8"><path d="M0 1h3.5v1h-3.5zM0 3h3.5v1h-3.5zM0 5h3.5v1h-3.5zM0 7h3.5v1h-3.5zM0 9h3.5v1h-3.5zM0 11h3.5v1h-3.5zM0 13h3.5v1h-3.5zM0 15h3.5v1h-3.5zM0 17h3.5v1h-3.5z"/></g>
<g id="doc"><path d="M0.5 1.2q0-1 1-1h7l3 3v11.4q0 1-1 1h-9q-1 0-1-1z" fill="#fbfbfb" stroke="#8c8c8c" stroke-width="1"/><path d="M8.5 0.4v3h3" fill="#e4e4e4" stroke="#8c8c8c" stroke-width="0.8"/></g>
</defs>
<rect x="0" y="0" width="1731" height="22" fill="#f0f0f0"/>
<rect x="320.5" y="0" width="24" height="20" fill="#f8f8f8"/>
<rect x="472" y="0" width="24" height="20" fill="#f8f8f8"/>
<rect x="500" y="0" width="24" height="20" fill="#f8f8f8"/>
<rect x="660.5" y="0" width="24" height="20" fill="#f8f8f8"/>
<rect x="1134" y="0" width="24" height="20" fill="#f8f8f8"/>
<rect x="45" y="0" width="1" height="20" fill="#a0a0a0"/>
<rect x="319" y="0" width="1" height="20" fill="#a0a0a0"/>
<rect x="376" y="0" width="1" height="20" fill="#a0a0a0"/>
<rect x="466" y="0" width="1" height="20" fill="#a0a0a0"/>
<rect x="471" y="0" width="1" height="20" fill="#a0a0a0"/>
<rect x="499" y="0" width="1" height="20" fill="#a0a0a0"/>
<rect x="528" y="0" width="1" height="20" fill="#a0a0a0"/>
<rect x="659" y="0" width="1" height="20" fill="#a0a0a0"/>
<rect x="716" y="0" width="1" height="20" fill="#a0a0a0"/>
<rect x="1133" y="0" width="1" height="20" fill="#a0a0a0"/>
<rect x="281" y="0" width="1" height="22" fill="#a0a0a0"/><rect x="282" y="0" width="1" height="22" fill="#fff"/>
<use href="#grip" x="284.7" y="0"/>
<rect x="649" y="0" width="1" height="22" fill="#a0a0a0"/><rect x="650" y="0" width="1" height="22" fill="#fff"/>
<use href="#grip" x="652.7" y="0"/>
<rect x="955" y="0" width="1" height="22" fill="#a0a0a0"/><rect x="956" y="0" width="1" height="22" fill="#fff"/>
<use href="#grip" x="958.7" y="0"/>
<rect x="1216" y="0" width="1" height="22" fill="#a0a0a0"/><rect x="1217" y="0" width="1" height="22" fill="#fff"/>
<rect x="-6" y="3.7" width="13.2" height="12.4" rx="1" fill="#fff" stroke="#3f7fd0" stroke-width="1.3"/>
<path d="M-4 7h9M-4 9.5h9M-4 12h9" stroke="#c8d8f8" stroke-width="1"/><path d="M-0.5 11l1.5 1.3l-1.5 1.3" fill="none" stroke="#222" stroke-width="0.9"/>
<rect x="20.5" y="2.8" width="12" height="12.8" rx="0.8" fill="#f6f6f4" stroke="#b4aa98" stroke-width="1"/>
<path d="M23.5 5.5v6M26 7v5M29.5 5.5v5" stroke="#7a8088" stroke-width="1"/>
<path d="M32.8 14.8L37 18.4" stroke="#c9a227" stroke-width="2.4" stroke-linecap="round"/>
<circle cx="28.6" cy="11.3" r="4.9" fill="#cfe2f7" fill-opacity="0.8" stroke="#6d9be0" stroke-width="1.2"/>
<use href="#doc" x="55" y="2"/>
<path d="M57.5 6h3M57.5 9h6M57.5 11.5h6" stroke="#a0a0a0" stroke-width="1"/>
<use href="#plus" x="65" y="13.9"/>
<text x="74" y="13.2" font-size="12" fill="#000" font-family="'Liberation Sans','Noto Sans CJK SC',sans-serif">新订单</text>
<path d="M122.2 11.6L128.2 3.3L137.8 9.3L130.3 17.4z" fill="url(#gbook)" stroke="#a87818" stroke-width="0.9"/>
<path d="M122.4 12.4L130.3 18.2L137.6 10.2" fill="none" stroke="#b88a20" stroke-width="1"/>
<path d="M152.5 3.2l8-1l2.5 1.5v8h-10.5z" fill="#3a9ae8" stroke="#2f78c8" stroke-width="0.6"/>
<path d="M156 5.2h5M156 7.4h5" stroke="#e8f4ff" stroke-width="1"/>
<path d="M152 17.2q-2.4-0.4-1.8-2.4q0.6-1.6 2.6-1.2q1-2.6 3.8-2.2q2.2 0.2 2.8 2q2.2-1.2 3.6 0.4q1.4-0.2 1.8 1.2q0.4 2-2 2.2z" fill="#e6edf8" stroke="#6e8fc4" stroke-width="0.9"/>
<circle cx="185.9" cy="10" r="7.4" fill="none" stroke="#9bb4e0" stroke-width="1.1"/>
<circle cx="185.9" cy="10" r="4.8" fill="none" stroke="#7f9fdc" stroke-width="1.1"/>
<path d="M186.3 17.6a7.5 7.5 0 0 0 7-7.4" fill="none" stroke="#58b058" stroke-width="1.6"/>
<path d="M186.3 10v7.6" stroke="#36a836" stroke-width="1.6"/>
<circle cx="185.9" cy="10" r="2" fill="#3f6fd0"/>
<path d="M206 9.6h14.6l-6.6 7.8q-0.6 0.4-1.2 0z" fill="#f3d548" stroke="#c8a020" stroke-width="0.7"/>
<ellipse cx="212.9" cy="7.4" rx="7.9" ry="2.6" fill="#4f9fe0" stroke="#2f78c0" stroke-width="0.7"/>
<path d="M208.6 6.6q0.4-4.4 4.4-4.4q3.8 0 4.4 4.4q-4.4 1.6-8.8 0z" fill="#6cb4ec" stroke="#2f78c0" stroke-width="0.7"/>
<circle cx="217.6" cy="13.9" r="3.9" fill="#d81e10"/><rect x="216.2" y="12.5" width="2.8" height="2.8" fill="#fff"/>
<text x="226.6" y="13.2" font-size="12" fill="#000" font-family="'Liberation Sans','Noto Sans CJK SC',sans-serif" textLength="47" lengthAdjust="spacing">自动交易</text>
<use href="#axes" x="296.6" y="0"/>
<path d="M305.6 5.2v8.2M303 12.5h2.6M305.6 6.3h2.6" fill="none" stroke="#139213" stroke-width="1.3"/>
<use href="#axes" x="324.5" y="0"/>
<path d="M333.5 2.2v11.8" stroke="#139213" stroke-width="1.2"/><rect x="331.2" y="4.4" width="4.6" height="7.2" fill="#3ddc3d" stroke="#139213" stroke-width="0.9"/>
<use href="#axes" x="352.5" y="0"/>
<path d="M354.2 12.6q3.6-5.6 6-5.2q2 0.4 5.6 3.6" fill="none" stroke="#2a9a2a" stroke-width="1.2"/>
<path d="M395.29999999999995 12.2L399.5 16.6" stroke="#d4b428" stroke-width="2.8" stroke-linecap="round"/>
<circle cx="390.9" cy="7.8" r="5.5" fill="url(#glens)" stroke="#3f80dc" stroke-width="1.3"/>
<path d="M387.7 7.8h6.4M390.9 4.6v6.4" stroke="#3f7fb8" stroke-width="1.6"/>
<path d="M423.5 12.2L427.70000000000005 16.6" stroke="#d4b428" stroke-width="2.8" stroke-linecap="round"/>
<circle cx="419.1" cy="7.8" r="5.5" fill="url(#glens)" stroke="#3f80dc" stroke-width="1.3"/>
<path d="M415.90000000000003 7.8h6.4" stroke="#3f7fb8" stroke-width="1.6"/>
<rect x="441.2" y="2.2" width="7.6" height="7.6" rx="0.6" fill="#3fa41c"/>
<rect x="442.5" y="5.4" width="5" height="3.2" fill="#fff" fill-opacity="0.92"/>
<rect x="449.2" y="2.2" width="7.6" height="7.6" rx="0.6" fill="#1f4fd0"/>
<rect x="450.5" y="5.4" width="5" height="3.2" fill="#fff" fill-opacity="0.92"/>
<rect x="441.2" y="10.2" width="7.6" height="7.6" rx="0.6" fill="#1f4fd0"/>
<rect x="442.5" y="13.399999999999999" width="5" height="3.2" fill="#fff" fill-opacity="0.92"/>
<rect x="449.2" y="10.2" width="7.6" height="7.6" rx="0.6" fill="#3fa41c"/>
<rect x="450.5" y="13.399999999999999" width="5" height="3.2" fill="#fff" fill-opacity="0.92"/>
<use href="#axes" x="476.5" y="0"/>
<path d="M484.3 6.2L488 9.6L484.3 13z" fill="#b8f0b8" stroke="#1fa41f" stroke-width="1.1"/>
<use href="#axes" x="504.5" y="0"/>
<path d="M513.6 3.9v10" stroke="#1f7fc0" stroke-width="1.2"/><path d="M518.8 9.5h-3.6M517 7.4l-2.2 2.1l2.2 2.1" fill="none" stroke="#d8400c" stroke-width="1.1"/>
<use href="#doc" x="538" y="2"/>
<path d="M543.6 5q-1.8-0.4-1.8 1.6v6M540.6 8.4h3" fill="none" stroke="#555" stroke-width="1"/>
<use href="#plus" x="548.2" y="13.9"/>
<use href="#dd" x="559.9" y="8.8"/>
<circle cx="584.1" cy="10" r="6.5" fill="#fdfdfd" stroke="#1c68cc" stroke-width="2.8"/>
<circle cx="584.1" cy="10" r="7.9" fill="none" stroke="#1858b0" stroke-width="0.5"/>
<path d="M583.6 6v4.4h3" fill="none" stroke="#444" stroke-width="1"/>
<use href="#dd" x="598.8" y="8.8"/>
<rect x="615.6" y="3.4" width="15.2" height="13" rx="0.8" fill="#fff" stroke="#3f7fd0" stroke-width="1.1"/>
<rect x="616" y="3.6" width="14.4" height="2" fill="#5f9fe8"/>
<path d="M616 11h14.4" stroke="#3f7fd0" stroke-width="0.9"/>
<path d="M617.6 9.2l2.4-0.2l1.6-1.2l2.6 0.6l2.4-0.4l2-1" fill="none" stroke="#c0200c" stroke-width="1.1"/>
<path d="M618.2 14.4l2.2-0.2l1.8-1.2l1.6 0.8l2.2-1.6l2.4 1.8" fill="none" stroke="#1f9a1f" stroke-width="1.1"/>
<use href="#dd" x="638" y="8.8"/>
<path d="M667.2 3v11.4l2.8-2.6l2.2 4.8l1.8-0.8l-2.2-4.6h3.6z" fill="#505050"/>
<path d="M692.1 10.4h6.4M700.5 10.4h6.4M699.5 3v6.4M699.5 11.4v6.4" stroke="#505050" stroke-width="1.1"/>
<path d="M733.5 4v13" stroke="#505050" stroke-width="1.3"/>
<path d="M756 10.4h12" stroke="#505050" stroke-width="1.3"/>
<path d="M783.8 16.8L796.2 4.5" stroke="#505050" stroke-width="1.2"/>
<path d="M810 11.6L819.6 3.6M811.6 16.4L823.6 7.6" stroke="#505050" stroke-width="1.1"/>
<path d="M812 9.6l1.4 6M814.6 7.6l1.4 6M817.2 5.6l1.4 6M820 3.2l1.4 6" stroke="#505050" stroke-width="0.9"/>
<text x="820.6" y="18.6" font-size="6.5" font-weight="bold" fill="#333" font-family="'Liberation Sans',sans-serif">E</text>
<path d="M840.8 3.6h11.6M840.8 6.6h11.6M840.8 10.6h11.6" stroke="#505050" stroke-width="1" stroke-dasharray="1 1"/>
<path d="M840.8 14.4h7" stroke="#505050" stroke-width="1" stroke-dasharray="1 1"/>
<text x="848.6" y="18.6" font-size="6.5" font-weight="bold" fill="#333" font-family="'Liberation Sans',sans-serif">F</text>
<text x="869.6" y="14.7" font-size="12" font-weight="bold" fill="#555" font-family="'Liberation Sans',sans-serif">A</text>
<rect x="896.6" y="4.3" width="11" height="12" fill="none" stroke="#505050" stroke-width="1" stroke-dasharray="1 1"/>
<text x="898.6" y="14.6" font-size="10.5" font-weight="bold" fill="#505050" font-family="'Liberation Sans',sans-serif">T</text>
<path d="M926.8 4l3 2.6l-3 2.6l-3-2.6zM933.6 11.2l3 2.6l-3 2.6l-3-2.6z" fill="#505050"/>
<path d="M926 11l2 2.2l4.4-5" fill="none" stroke="#505050" stroke-width="1.1"/>
<use href="#dd" x="944" y="8.8"/>
<text transform="translate(970.6 14) scale(0.93 1)" font-size="10" fill="#3c3c3c" style="text-rendering:geometricPrecision" font-family="'Liberation Sans',sans-serif">M1</text>
<text transform="translate(998.4 14) scale(0.93 1)" font-size="10" fill="#3c3c3c" style="text-rendering:geometricPrecision" font-family="'Liberation Sans',sans-serif">M5</text>
<text transform="translate(1024.4 14) scale(0.93 1)" font-size="10" fill="#3c3c3c" style="text-rendering:geometricPrecision" font-family="'Liberation Sans',sans-serif">M15</text>
<text transform="translate(1052.6 14) scale(0.93 1)" font-size="10" fill="#3c3c3c" style="text-rendering:geometricPrecision" font-family="'Liberation Sans',sans-serif">M30</text>
<text transform="translate(1083.6 14) scale(0.93 1)" font-size="10" fill="#3c3c3c" style="text-rendering:geometricPrecision" font-family="'Liberation Sans',sans-serif">H1</text>
<text transform="translate(1110.8 14) scale(0.93 1)" font-size="10" fill="#3c3c3c" style="text-rendering:geometricPrecision" font-family="'Liberation Sans',sans-serif">H4</text>
<text transform="translate(1139.8 14) scale(0.93 1)" font-size="10" fill="#3c3c3c" style="text-rendering:geometricPrecision" font-family="'Liberation Sans',sans-serif">D1</text>
<text transform="translate(1167 14) scale(0.93 1)" font-size="10" fill="#3c3c3c" style="text-rendering:geometricPrecision" font-family="'Liberation Sans',sans-serif">W1</text>
<text transform="translate(1193.6 14) scale(0.93 1)" font-size="10" fill="#3c3c3c" style="text-rendering:geometricPrecision" font-family="'Liberation Sans',sans-serif">MN</text>
<path d="M1683.6 10.6L1679.2 14.8" stroke="#1f55cc" stroke-width="2.3" stroke-linecap="round"/>
<circle cx="1686.5" cy="7.5" r="3.9" fill="#f4f6ff" stroke="#2a64e0" stroke-width="1.3"/>
<path d="M1703.4 12q0-4.6 5.2-4.6q5 0 5 4.6q0 4.2-5 4.4l-1.6 0.2l-1 2l-0.4-2.4q-2.2-1-2.2-4.2z" fill="#e4e6ee" stroke="#b8b8b8" stroke-width="0.8"/>
<circle cx="1717.4" cy="7.7" r="8.3" fill="url(#gred)"/>
<text x="1717.3" y="12.2" font-size="12.5" fill="#fff" text-anchor="middle" font-family="'Liberation Sans',sans-serif">1</text>
</svg>
</body></html>
